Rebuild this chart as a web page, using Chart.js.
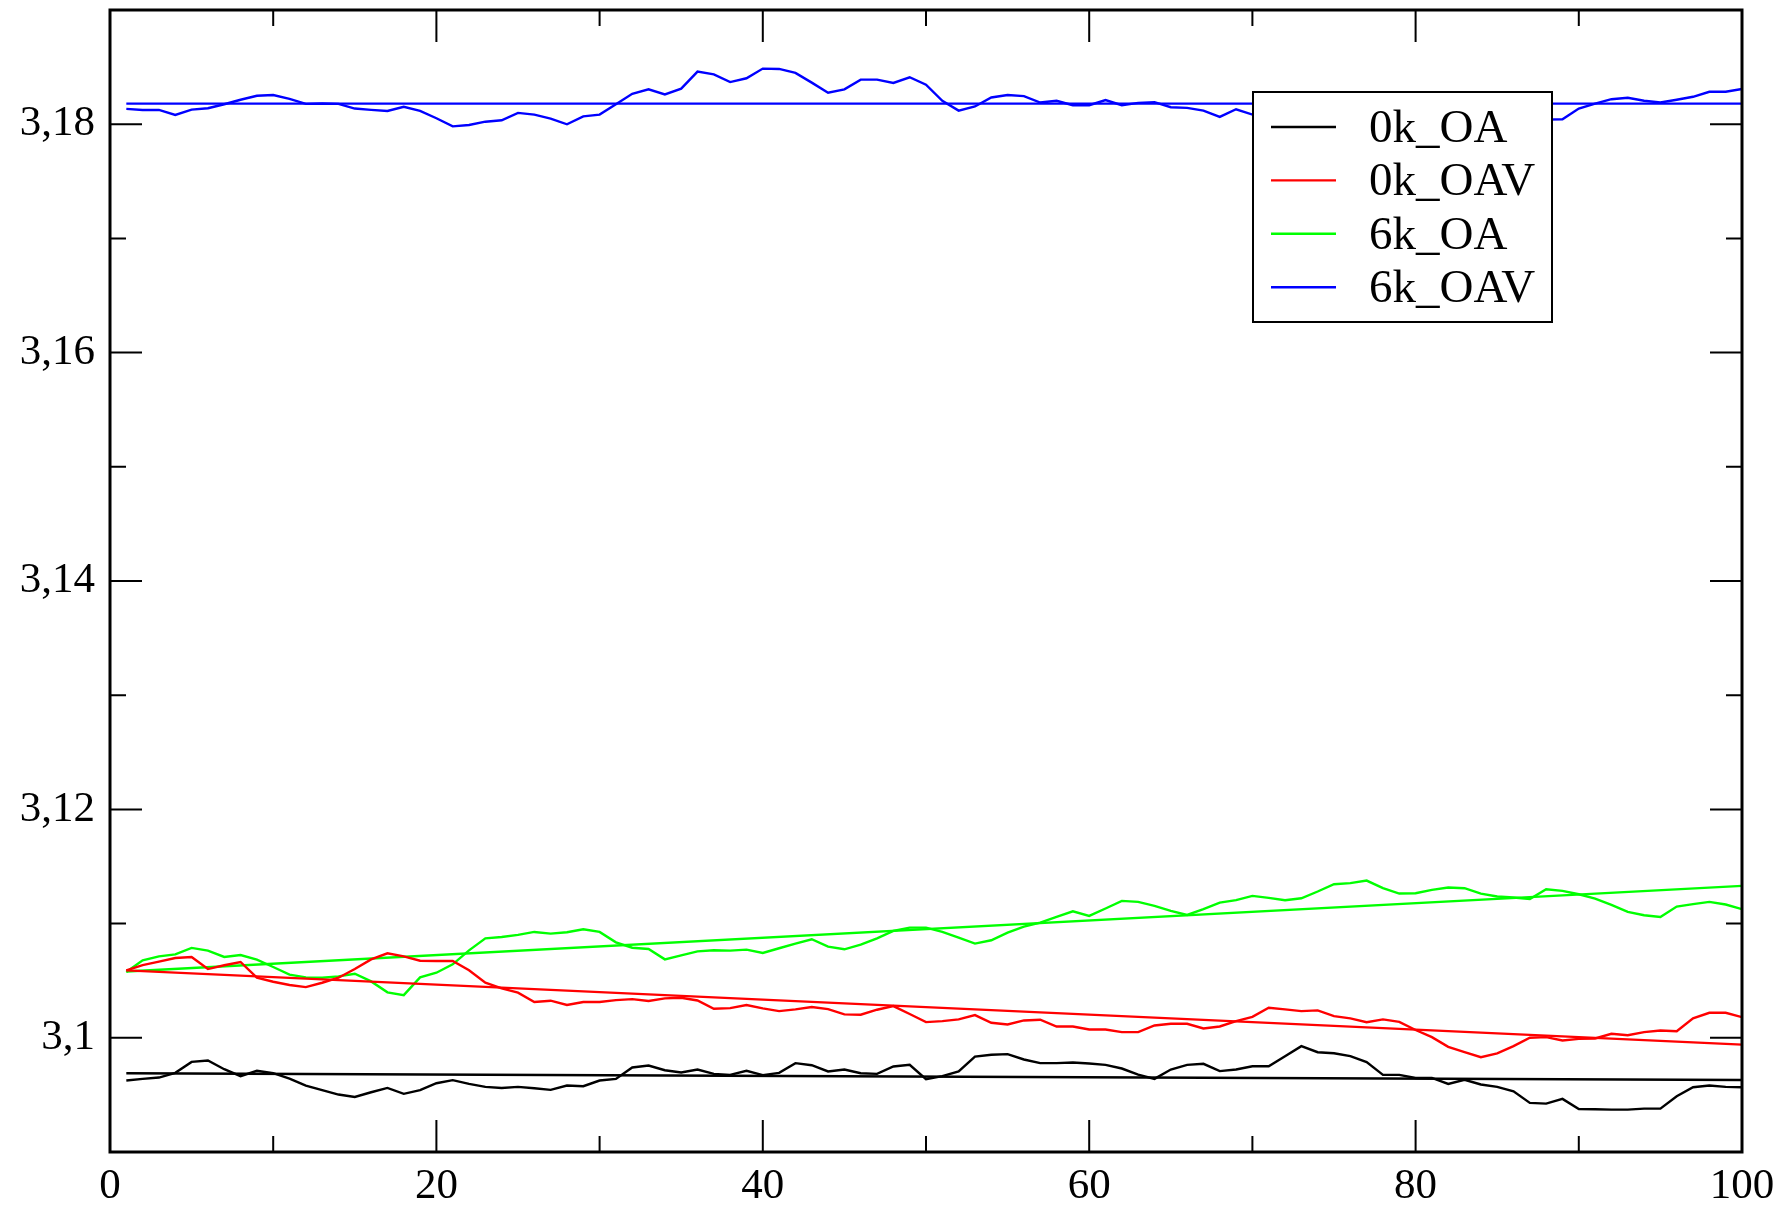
<!DOCTYPE html>
<html>
<head>
<meta charset="utf-8">
<title>0k / 6k</title>
<script src="https://cdn.jsdelivr.net/npm/chart.js@4.4.0/dist/chart.umd.min.js"></script>
<style>
    html, body { margin: 0; padding: 0; background: #fff; }
    #wrap { width: 1783px; height: 1209px; }
</style>
</head>
<body>
<div id="wrap"><canvas id="myChart" width="1783" height="1209"></canvas></div>
<script>
/* x steps */
const steps = [
    1, 2, 3, 4, 5, 6, 7, 8, 9, 10, 11, 12, 13, 14, 15, 16, 17, 18, 19, 20,
    21, 22, 23, 24, 25, 26, 27, 28, 29, 30, 31, 32, 33, 34, 35, 36, 37, 38, 39, 40,
    41, 42, 43, 44, 45, 46, 47, 48, 49, 50, 51, 52, 53, 54, 55, 56, 57, 58, 59, 60,
    61, 62, 63, 64, 65, 66, 67, 68, 69, 70, 71, 72, 73, 74, 75, 76, 77, 78, 79, 80,
    81, 82, 83, 84, 85, 86, 87, 88, 89, 90, 91, 92, 93, 94, 95, 96, 97, 98, 99, 100
];

const seriesNames = ['0k_OA', '0k_OAV', '6k_OA', '6k_OAV'];
const seriesColors = ['#000000', '#ff0000', '#00ff00', '#0000ff'];

const oa0k = [
    3.09626, 3.0964, 3.09652, 3.09693, 3.09789, 3.09801, 3.09725, 3.09664, 3.09711, 3.0969,
    3.09643, 3.09582, 3.09541, 3.09503, 3.09482, 3.09523, 3.09561, 3.09509, 3.09541, 3.09602,
    3.09629, 3.09596, 3.0957, 3.09561, 3.0957, 3.09558, 3.09544, 3.09582, 3.09576, 3.09626,
    3.0964, 3.0974, 3.09757, 3.09716, 3.09696, 3.09722, 3.09684, 3.09675, 3.09711, 3.09673,
    3.09693, 3.09778, 3.0976, 3.09705, 3.09722, 3.0969, 3.09684, 3.09749, 3.09763, 3.09637,
    3.09664, 3.09705, 3.09836, 3.09851, 3.09857, 3.0981, 3.09778, 3.09778, 3.09784, 3.09775,
    3.09763, 3.09731, 3.09678, 3.0964, 3.09722, 3.09763, 3.09772, 3.09708, 3.09722, 3.09751,
    3.09751, 3.09839, 3.09927, 3.09874, 3.09865, 3.09839, 3.09787, 3.09675, 3.09675, 3.09648,
    3.09649, 3.09596, 3.09632, 3.09591, 3.0957, 3.09532, 3.0943, 3.09424, 3.09465, 3.09377,
    3.09374, 3.09371, 3.09371, 3.0938, 3.0938, 3.09488, 3.09567, 3.09582, 3.0957, 3.09567
];

const oav0k = [
    3.10591, 3.10637, 3.10667, 3.10699, 3.10708, 3.10602, 3.10635, 3.10664, 3.10526, 3.10491,
    3.10462, 3.10444, 3.10482, 3.10526, 3.10602, 3.10687, 3.1074, 3.10713, 3.10675, 3.10673,
    3.10673, 3.10591, 3.10482, 3.10433, 3.10395, 3.10313, 3.10325, 3.10287, 3.10313, 3.10313,
    3.1033, 3.10339, 3.10322, 3.10345, 3.10351, 3.10327, 3.10254, 3.1026, 3.10287, 3.10258,
    3.10234, 3.10249, 3.10269, 3.10251, 3.10205, 3.10202, 3.10246, 3.10278, 3.10208, 3.10137,
    3.10146, 3.10161, 3.10199, 3.10132, 3.10117, 3.10152, 3.10158, 3.10099, 3.10099, 3.10073,
    3.10073, 3.1005, 3.1005, 3.10108, 3.10123, 3.10123, 3.10082, 3.10099, 3.10146, 3.10184,
    3.10263, 3.10249, 3.10234, 3.1024, 3.1019, 3.1017, 3.10137, 3.10161, 3.1014, 3.10068,
    3.10006, 3.09921, 3.09874, 3.0983, 3.09863, 3.09927, 3.1, 3.10006, 3.09977, 3.09991,
    3.09994, 3.10035, 3.10023, 3.1005, 3.10064, 3.10058, 3.1017, 3.10219, 3.10219, 3.10181
];

const oa6k = [
    3.10576, 3.10678, 3.10713, 3.10731, 3.10787, 3.10763, 3.10708, 3.10725, 3.10684, 3.1062,
    3.10553, 3.10529, 3.10526, 3.10538, 3.10561, 3.10494, 3.10398, 3.10374, 3.10529, 3.1057,
    3.10643, 3.10766, 3.10871, 3.10883, 3.10901, 3.10927, 3.10912, 3.10924, 3.1095, 3.10927,
    3.10836, 3.10789, 3.10778, 3.10687, 3.10722, 3.10757, 3.10766, 3.10763, 3.10772, 3.10743,
    3.10784, 3.10825, 3.10863, 3.10798, 3.10775, 3.10816, 3.10871, 3.10936, 3.10965, 3.10965,
    3.10927, 3.10877, 3.10825, 3.10854, 3.10921, 3.10974, 3.11009, 3.11058, 3.11108, 3.11067,
    3.11132, 3.11199, 3.1119, 3.11155, 3.11111, 3.11076, 3.11126, 3.11184, 3.11205, 3.11243,
    3.11225, 3.11205, 3.11222, 3.11281, 3.11345, 3.11354, 3.11377, 3.1131, 3.11263, 3.11266,
    3.11295, 3.11316, 3.1131, 3.11263, 3.11237, 3.11228, 3.11216, 3.11301, 3.11287, 3.11257,
    3.11219, 3.11164, 3.11102, 3.11073, 3.11058, 3.11149, 3.1117, 3.1119, 3.11167, 3.11126
];

const oav6k = [
    3.18134, 3.18125, 3.18125, 3.18081, 3.18128, 3.1814, 3.18175, 3.18214, 3.18249, 3.18255,
    3.18222, 3.18178, 3.18181, 3.18178, 3.18137, 3.18125, 3.18116, 3.18152, 3.18116, 3.18052,
    3.17981, 3.17993, 3.18022, 3.18034, 3.18099, 3.18084, 3.18049, 3.17999, 3.18069, 3.18084,
    3.18175, 3.18266, 3.18305, 3.18261, 3.18311, 3.18461, 3.18437, 3.18369, 3.18402, 3.18487,
    3.18484, 3.18449, 3.18364, 3.18275, 3.18305, 3.1839, 3.1839, 3.18361, 3.18411, 3.18346,
    3.18205, 3.18119, 3.18155, 3.18234, 3.18255, 3.18246, 3.1819, 3.18205, 3.18166, 3.18166,
    3.18211, 3.18166, 3.18187, 3.18193, 3.18149, 3.18143, 3.18119, 3.18064, 3.18131, 3.18084,
    3.1812, 3.1815, 3.1818, 3.1816, 3.1813, 3.181, 3.1814, 3.1819, 3.1821, 3.1817,
    3.1812, 3.1809, 3.1811, 3.1815, 3.1813, 3.1808, 3.1806, 3.1804, 3.18043, 3.18137,
    3.18181, 3.18219, 3.18231, 3.18205, 3.1819, 3.18214, 3.1824, 3.18284, 3.18284, 3.18308
];

/* linear fits: value at first and last step */
const fitSteps = [1, 100];
const fitOa0k = [3.0969, 3.0963];
const fitOav0k = [3.1059, 3.0994];
const fitOa6k = [3.1058, 3.1133];
const fitOav6k = [3.1818, 3.1818];

/* axis ticks */
const xMajorTicks = [0, 20, 40, 60, 80, 100];
const xMinorTicks = [10, 30, 50, 70, 90];
const yMajorTicks = [3.1, 3.12, 3.14, 3.16, 3.18];
const yMinorTicks = [3.11, 3.13, 3.15, 3.17];

const raw = [oa0k, oav0k, oa6k, oav6k];
const fits = [fitOa0k, fitOav0k, fitOa6k, fitOav6k];

const toPoints = (xs, ys) => xs.map((x, i) => ({x: x, y: ys[i]}));

const datasets = [];
raw.forEach((ys, k) => {
    datasets.push({
        label: seriesNames[k],
        data: toPoints(steps, ys),
        borderColor: seriesColors[k],
        borderWidth: 2.4,
        pointRadius: 0,
        tension: 0,
        fill: false
    });
    datasets.push({
        label: seriesNames[k] + ' fit',
        data: toPoints(fitSteps, fits[k]),
        borderColor: seriesColors[k],
        borderWidth: 2.4,
        pointRadius: 0,
        tension: 0,
        fill: false
    });
});

const serif = 'Liberation Serif, Times New Roman, serif';

/* frame with inward ticks on all four sides */
const frameTicks = {
    id: 'frameTicks',
    afterDatasetsDraw(chart) {
        const {ctx, chartArea: a, scales} = chart;
        const major = 32, minor = 16;
        ctx.save();
        ctx.strokeStyle = '#000';
        ctx.lineWidth = 2;
        ctx.beginPath();
        const xTick = (v, len) => {
            const px = scales.x.getPixelForValue(v);
            ctx.moveTo(px, a.bottom); ctx.lineTo(px, a.bottom - len);
            ctx.moveTo(px, a.top); ctx.lineTo(px, a.top + len);
        };
        const yTick = (v, len) => {
            const py = scales.y.getPixelForValue(v);
            ctx.moveTo(a.left, py); ctx.lineTo(a.left + len, py);
            ctx.moveTo(a.right, py); ctx.lineTo(a.right - len, py);
        };
        xMajorTicks.forEach(v => xTick(v, major));
        xMinorTicks.forEach(v => xTick(v, minor));
        yMajorTicks.forEach(v => yTick(v, major));
        yMinorTicks.forEach(v => yTick(v, minor));
        ctx.stroke();
        ctx.lineWidth = 3;
        ctx.strokeRect(a.left, a.top, a.right - a.left, a.bottom - a.top);
        ctx.restore();
    }
};

/* legend box inside the plot, top right */
const legendBox = {
    id: 'legendBox',
    afterDraw(chart) {
        const {ctx, chartArea: a} = chart;
        const bx = a.right - 489, by = a.top + 82, bw = 299, bh = 230;
        ctx.save();
        ctx.fillStyle = '#fff';
        ctx.fillRect(bx, by, bw, bh);
        ctx.strokeStyle = '#000';
        ctx.lineWidth = 2;
        ctx.strokeRect(bx, by, bw, bh);
        ctx.font = '47px ' + serif;
        ctx.textAlign = 'left';
        ctx.textBaseline = 'alphabetic';
        seriesNames.forEach((name, i) => {
            const ry = by + 35 + i * 53.4;
            ctx.strokeStyle = seriesColors[i];
            ctx.lineWidth = 2.4;
            ctx.beginPath();
            ctx.moveTo(bx + 18, ry);
            ctx.lineTo(bx + 83, ry);
            ctx.stroke();
            ctx.fillStyle = '#000';
            ctx.fillText(name, bx + 116, ry + 15);
        });
        ctx.restore();
    }
};

const ctx = document.getElementById('myChart').getContext('2d');
new Chart(ctx, {
    type: 'line',
    data: { datasets: datasets },
    options: {
        responsive: false,
        animation: false,
        layout: { padding: { top: 10, right: 41, left: 0, bottom: 0 } },
        plugins: {
            legend: { display: false },
            tooltip: { enabled: false }
        },
        scales: {
            x: {
                type: 'linear',
                min: 0,
                max: 100,
                grid: { display: false, drawTicks: false },
                border: { display: false },
                ticks: {
                    color: '#000',
                    font: { family: serif, size: 43 },
                    padding: 9,
                    maxRotation: 0,
                    autoSkip: false
                },
                afterBuildTicks: s => { s.ticks = xMajorTicks.map(v => ({value: v})); },
                afterFit: s => { s.height = 57; s.paddingLeft = 0; s.paddingRight = 0; }
            },
            y: {
                type: 'linear',
                min: 3.09,
                max: 3.19,
                grid: { display: false, drawTicks: false },
                border: { display: false },
                ticks: {
                    color: '#000',
                    font: { family: serif, size: 43 },
                    padding: 15,
                    autoSkip: false,
                    callback: v => v.toFixed(2).replace(/0$/, '').replace('.', ',')
                },
                afterBuildTicks: s => { s.ticks = yMajorTicks.map(v => ({value: v})); },
                afterFit: s => { s.width = 110; s.paddingTop = 0; s.paddingBottom = 0; }
            }
        }
    },
    plugins: [frameTicks, legendBox]
});
</script>
</body>
</html>
